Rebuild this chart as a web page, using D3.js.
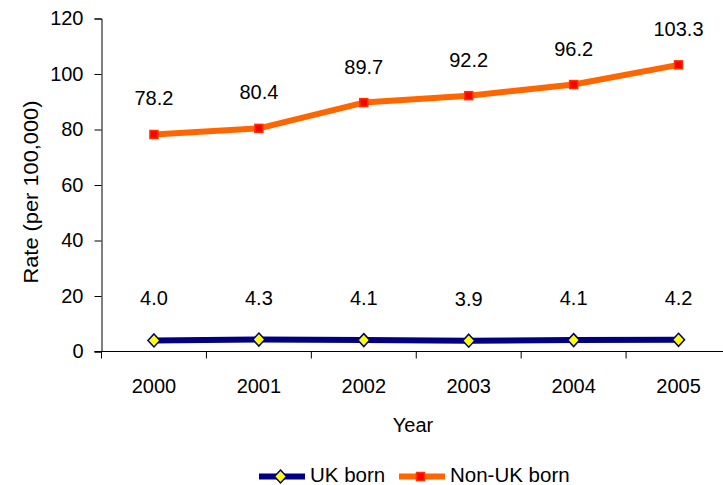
<!DOCTYPE html>
<html>
<head>
<meta charset="utf-8">
<script src="https://cdn.jsdelivr.net/npm/d3@7"></script>
<style>
  html, body { margin: 0; padding: 0; background: #fff; }
  svg { display: block; font-family: "Liberation Sans", Arial, sans-serif; }
</style>
</head>
<body>
<svg id="chart" width="723" height="485"></svg>
<script>
// Rates per 100,000 by year of notification
const years = ["2000", "2001", "2002", "2003", "2004", "2005"];
const ukBorn = [4.0, 4.3, 4.1, 3.9, 4.1, 4.2];
const nonUkBorn = [78.2, 80.4, 89.7, 92.2, 96.2, 103.3];
const yTicks = [0, 20, 40, 60, 80, 100, 120];

const svg = d3.select("#chart");
const plotLeft = 101.5, plotRight = 731, plotTop = 18.5, plotBottom = 351.5;
const fontSize = 20;

const x = d3.scaleBand().domain(years).range([plotLeft, plotRight]);
const y = d3.scaleLinear().domain([0, 120]).range([plotBottom, plotTop]);
const cx = d => x(d) + x.bandwidth() / 2;

// Y axis
const yAxis = svg.append("g")
  .attr("transform", `translate(${plotLeft},0)`)
  .call(d3.axisLeft(y).tickValues(yTicks).tickSize(7).tickPadding(11));
yAxis.select(".domain").attr("stroke", "#000");
yAxis.selectAll(".tick line").attr("stroke", "#000");
yAxis.selectAll("text").attr("font-size", fontSize).attr("fill", "#000")
  .attr("font-family", "Liberation Sans, Arial, sans-serif");

// X axis with ticks at category boundaries
svg.append("line").attr("x1", plotLeft - 7).attr("x2", plotRight)
  .attr("y1", plotBottom).attr("y2", plotBottom).attr("stroke", "#000");
d3.range(years.length + 1).forEach(i => {
  const px = plotLeft + i * x.bandwidth();
  svg.append("line").attr("x1", px).attr("x2", px)
    .attr("y1", plotBottom).attr("y2", plotBottom + 7).attr("stroke", "#000");
});
svg.append("g").selectAll("text").data(years).join("text")
  .attr("x", d => cx(d)).attr("y", plotBottom + 41)
  .attr("text-anchor", "middle").attr("font-size", fontSize).text(d => d);

// Axis titles
svg.append("text").attr("transform", "translate(38,192) rotate(-90)")
  .attr("text-anchor", "middle").attr("font-size", fontSize)
  .attr("textLength", 183).attr("lengthAdjust", "spacingAndGlyphs")
  .text("Rate (per 100,000)");
svg.append("text").attr("x", 413).attr("y", 432)
  .attr("text-anchor", "middle").attr("font-size", fontSize).text("Year");

const series = [
  { name: "UK born", values: ukBorn, line: "#000080", marker: "diamond", labelOffset: 35 },
  { name: "Non-UK born", values: nonUkBorn, line: "#FF6600", marker: "square", labelOffset: 29 }
];

const lineGen = d3.line().x((d, i) => cx(years[i])).y(d => y(d));

function drawMarker(g, kind, px, py) {
  if (kind === "diamond") {
    g.append("path")
      .attr("d", `M${px},${py - 6.5}L${px + 6},${py}L${px},${py + 6.5}L${px - 6},${py}Z`)
      .attr("fill", "#FFFF00").attr("stroke", "#000080").attr("stroke-width", 1.5);
  } else {
    g.append("rect").attr("x", px - 4).attr("y", py - 4).attr("width", 8).attr("height", 8)
      .attr("fill", "#FF0000").attr("stroke", "#FF3300").attr("stroke-width", 1.5);
  }
}

series.forEach(s => {
  svg.append("path").datum(s.values)
    .attr("d", lineGen).attr("fill", "none")
    .attr("stroke", s.line).attr("stroke-width", 6).attr("stroke-linejoin", "round");
  const g = svg.append("g");
  s.values.forEach((v, i) => drawMarker(g, s.marker, cx(years[i]), y(v)));
  svg.append("g").selectAll("text").data(s.values).join("text")
    .attr("x", (d, i) => cx(years[i]))
    .attr("y", d => y(d) - s.labelOffset)
    .attr("text-anchor", "middle").attr("font-size", fontSize)
    .text(d => d.toFixed(1));
});

// Legend
const legend = [
  { s: series[0], x0: 259, tx: 310 },
  { s: series[1], x0: 399, tx: 450 }
];
legend.forEach(l => {
  const ly = 476.5;
  svg.append("line").attr("x1", l.x0).attr("x2", l.x0 + 46)
    .attr("y1", ly).attr("y2", ly).attr("stroke", l.s.line).attr("stroke-width", 6);
  drawMarker(svg, l.s.marker, l.x0 + 21.5, ly);
  svg.append("text").attr("x", l.tx).attr("y", ly + 5.5)
    .attr("font-size", 20.5).text(l.s.name);
});
</script>
</body>
</html>
